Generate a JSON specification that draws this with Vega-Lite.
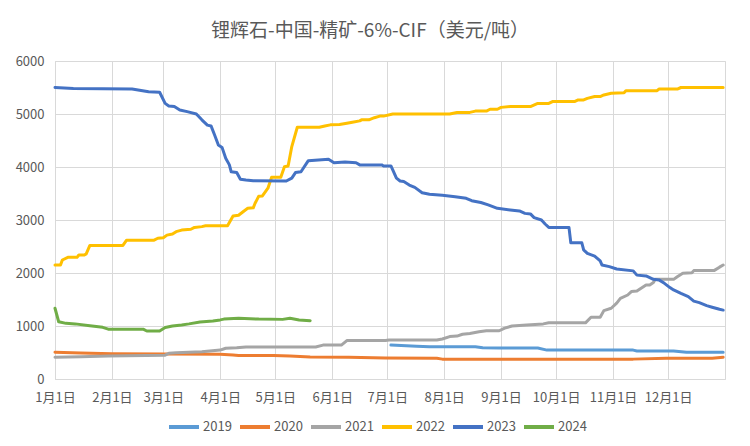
{
  "$schema": "https://vega.github.io/schema/vega-lite/v6.json",
  "width": 670,
  "height": 318,
  "autosize": "none",
  "padding": {"left": 55, "top": 61, "right": 25, "bottom": 67},
  "background": "white",
  "title": {
    "text": "锂辉石-中国-精矿-6%-CIF（美元/吨）",
    "fontSize": 19,
    "fontWeight": "normal",
    "color": "#595959",
    "font": "Noto Sans CJK SC",
    "anchor": "middle",
    "frame": "bounds",
    "offset": 14
  },
  "data": {
    "format": {"parse": {"md": "date:'%m-%d'"}},
    "values": [
      {"s": "2019", "md": "07-03", "v": 640},
      {"s": "2019", "md": "07-17", "v": 620},
      {"s": "2019", "md": "07-24", "v": 610},
      {"s": "2019", "md": "08-18", "v": 610},
      {"s": "2019", "md": "08-22", "v": 590},
      {"s": "2019", "md": "08-31", "v": 585},
      {"s": "2019", "md": "09-21", "v": 585},
      {"s": "2019", "md": "09-26", "v": 545},
      {"s": "2019", "md": "11-12", "v": 545},
      {"s": "2019", "md": "11-14", "v": 530},
      {"s": "2019", "md": "12-04", "v": 530},
      {"s": "2019", "md": "12-11", "v": 505},
      {"s": "2019", "md": "12-31", "v": 505},

      {"s": "2020", "md": "01-01", "v": 505},
      {"s": "2020", "md": "01-15", "v": 490},
      {"s": "2020", "md": "02-01", "v": 475},
      {"s": "2020", "md": "04-01", "v": 465},
      {"s": "2020", "md": "04-08", "v": 455},
      {"s": "2020", "md": "04-11", "v": 445},
      {"s": "2020", "md": "04-30", "v": 445},
      {"s": "2020", "md": "05-09", "v": 435},
      {"s": "2020", "md": "05-20", "v": 415},
      {"s": "2020", "md": "06-10", "v": 410},
      {"s": "2020", "md": "06-30", "v": 395},
      {"s": "2020", "md": "07-28", "v": 390},
      {"s": "2020", "md": "07-31", "v": 375},
      {"s": "2020", "md": "09-06", "v": 372},
      {"s": "2020", "md": "11-12", "v": 375},
      {"s": "2020", "md": "11-30", "v": 390},
      {"s": "2020", "md": "12-25", "v": 392},
      {"s": "2020", "md": "12-31", "v": 410},

      {"s": "2021", "md": "01-01", "v": 410},
      {"s": "2021", "md": "01-15", "v": 420},
      {"s": "2021", "md": "01-30", "v": 435},
      {"s": "2021", "md": "02-09", "v": 440},
      {"s": "2021", "md": "03-02", "v": 450},
      {"s": "2021", "md": "03-04", "v": 485},
      {"s": "2021", "md": "03-08", "v": 495},
      {"s": "2021", "md": "03-22", "v": 515},
      {"s": "2021", "md": "04-01", "v": 545},
      {"s": "2021", "md": "04-04", "v": 580},
      {"s": "2021", "md": "04-10", "v": 590},
      {"s": "2021", "md": "04-15", "v": 605},
      {"s": "2021", "md": "05-23", "v": 605},
      {"s": "2021", "md": "05-27", "v": 640},
      {"s": "2021", "md": "06-06", "v": 640},
      {"s": "2021", "md": "06-09", "v": 725},
      {"s": "2021", "md": "06-30", "v": 725},
      {"s": "2021", "md": "07-02", "v": 735},
      {"s": "2021", "md": "07-28", "v": 735},
      {"s": "2021", "md": "07-31", "v": 755},
      {"s": "2021", "md": "08-04", "v": 800},
      {"s": "2021", "md": "08-08", "v": 810},
      {"s": "2021", "md": "08-11", "v": 845},
      {"s": "2021", "md": "08-15", "v": 860},
      {"s": "2021", "md": "08-20", "v": 890},
      {"s": "2021", "md": "08-24", "v": 910},
      {"s": "2021", "md": "08-31", "v": 910},
      {"s": "2021", "md": "09-03", "v": 960},
      {"s": "2021", "md": "09-07", "v": 1000},
      {"s": "2021", "md": "09-15", "v": 1020},
      {"s": "2021", "md": "09-24", "v": 1040},
      {"s": "2021", "md": "09-27", "v": 1060},
      {"s": "2021", "md": "10-17", "v": 1060},
      {"s": "2021", "md": "10-20", "v": 1165},
      {"s": "2021", "md": "10-25", "v": 1165},
      {"s": "2021", "md": "10-27", "v": 1290},
      {"s": "2021", "md": "10-31", "v": 1335},
      {"s": "2021", "md": "11-03", "v": 1430},
      {"s": "2021", "md": "11-05", "v": 1520},
      {"s": "2021", "md": "11-09", "v": 1585},
      {"s": "2021", "md": "11-11", "v": 1650},
      {"s": "2021", "md": "11-14", "v": 1660},
      {"s": "2021", "md": "11-19", "v": 1775},
      {"s": "2021", "md": "11-21", "v": 1775},
      {"s": "2021", "md": "11-23", "v": 1820},
      {"s": "2021", "md": "11-24", "v": 1880},
      {"s": "2021", "md": "12-04", "v": 1880},
      {"s": "2021", "md": "12-06", "v": 1930},
      {"s": "2021", "md": "12-09", "v": 1995},
      {"s": "2021", "md": "12-14", "v": 2005},
      {"s": "2021", "md": "12-15", "v": 2045},
      {"s": "2021", "md": "12-26", "v": 2045},
      {"s": "2021", "md": "12-29", "v": 2110},
      {"s": "2021", "md": "12-31", "v": 2150},

      {"s": "2022", "md": "01-01", "v": 2150},
      {"s": "2022", "md": "01-04", "v": 2150},
      {"s": "2022", "md": "01-05", "v": 2245},
      {"s": "2022", "md": "01-08", "v": 2295},
      {"s": "2022", "md": "01-13", "v": 2295},
      {"s": "2022", "md": "01-14", "v": 2340},
      {"s": "2022", "md": "01-17", "v": 2340},
      {"s": "2022", "md": "01-18", "v": 2360},
      {"s": "2022", "md": "01-20", "v": 2520},
      {"s": "2022", "md": "02-07", "v": 2520},
      {"s": "2022", "md": "02-09", "v": 2620},
      {"s": "2022", "md": "02-24", "v": 2620},
      {"s": "2022", "md": "02-26", "v": 2655},
      {"s": "2022", "md": "03-01", "v": 2665},
      {"s": "2022", "md": "03-03", "v": 2715},
      {"s": "2022", "md": "03-06", "v": 2735},
      {"s": "2022", "md": "03-08", "v": 2780},
      {"s": "2022", "md": "03-11", "v": 2810},
      {"s": "2022", "md": "03-16", "v": 2825},
      {"s": "2022", "md": "03-18", "v": 2860},
      {"s": "2022", "md": "03-22", "v": 2875},
      {"s": "2022", "md": "03-24", "v": 2890},
      {"s": "2022", "md": "04-05", "v": 2890},
      {"s": "2022", "md": "04-08", "v": 3075},
      {"s": "2022", "md": "04-11", "v": 3090},
      {"s": "2022", "md": "04-14", "v": 3170},
      {"s": "2022", "md": "04-16", "v": 3220},
      {"s": "2022", "md": "04-19", "v": 3230},
      {"s": "2022", "md": "04-20", "v": 3315},
      {"s": "2022", "md": "04-22", "v": 3450},
      {"s": "2022", "md": "04-24", "v": 3455},
      {"s": "2022", "md": "04-27", "v": 3600},
      {"s": "2022", "md": "04-29", "v": 3805},
      {"s": "2022", "md": "05-04", "v": 3805},
      {"s": "2022", "md": "05-06", "v": 4005},
      {"s": "2022", "md": "05-08", "v": 4020},
      {"s": "2022", "md": "05-10", "v": 4385},
      {"s": "2022", "md": "05-13", "v": 4750},
      {"s": "2022", "md": "05-25", "v": 4750},
      {"s": "2022", "md": "05-28", "v": 4775},
      {"s": "2022", "md": "05-31", "v": 4795},
      {"s": "2022", "md": "06-05", "v": 4800},
      {"s": "2022", "md": "06-09", "v": 4825},
      {"s": "2022", "md": "06-12", "v": 4845},
      {"s": "2022", "md": "06-16", "v": 4870},
      {"s": "2022", "md": "06-17", "v": 4890},
      {"s": "2022", "md": "06-21", "v": 4890},
      {"s": "2022", "md": "06-24", "v": 4930},
      {"s": "2022", "md": "06-27", "v": 4960},
      {"s": "2022", "md": "06-29", "v": 4960},
      {"s": "2022", "md": "07-04", "v": 5000},
      {"s": "2022", "md": "08-04", "v": 5000},
      {"s": "2022", "md": "08-08", "v": 5030},
      {"s": "2022", "md": "08-15", "v": 5030},
      {"s": "2022", "md": "08-18", "v": 5055},
      {"s": "2022", "md": "08-24", "v": 5055},
      {"s": "2022", "md": "08-26", "v": 5090},
      {"s": "2022", "md": "08-30", "v": 5090},
      {"s": "2022", "md": "09-01", "v": 5125},
      {"s": "2022", "md": "09-06", "v": 5140},
      {"s": "2022", "md": "09-17", "v": 5140},
      {"s": "2022", "md": "09-21", "v": 5200},
      {"s": "2022", "md": "09-27", "v": 5200},
      {"s": "2022", "md": "09-29", "v": 5235},
      {"s": "2022", "md": "10-11", "v": 5235},
      {"s": "2022", "md": "10-13", "v": 5265},
      {"s": "2022", "md": "10-16", "v": 5265},
      {"s": "2022", "md": "10-18", "v": 5295},
      {"s": "2022", "md": "10-22", "v": 5330},
      {"s": "2022", "md": "10-25", "v": 5330},
      {"s": "2022", "md": "10-27", "v": 5360},
      {"s": "2022", "md": "10-31", "v": 5390},
      {"s": "2022", "md": "11-07", "v": 5400},
      {"s": "2022", "md": "11-08", "v": 5440},
      {"s": "2022", "md": "11-25", "v": 5440},
      {"s": "2022", "md": "11-26", "v": 5470},
      {"s": "2022", "md": "12-06", "v": 5470},
      {"s": "2022", "md": "12-08", "v": 5500},
      {"s": "2022", "md": "12-31", "v": 5500},

      {"s": "2023", "md": "01-01", "v": 5500},
      {"s": "2023", "md": "01-11", "v": 5480},
      {"s": "2023", "md": "02-12", "v": 5470},
      {"s": "2023", "md": "02-21", "v": 5420},
      {"s": "2023", "md": "02-27", "v": 5410},
      {"s": "2023", "md": "03-02", "v": 5200},
      {"s": "2023", "md": "03-04", "v": 5150},
      {"s": "2023", "md": "03-07", "v": 5140},
      {"s": "2023", "md": "03-10", "v": 5075},
      {"s": "2023", "md": "03-14", "v": 5045},
      {"s": "2023", "md": "03-19", "v": 5000},
      {"s": "2023", "md": "03-22", "v": 4890},
      {"s": "2023", "md": "03-25", "v": 4790},
      {"s": "2023", "md": "03-27", "v": 4775},
      {"s": "2023", "md": "03-29", "v": 4600},
      {"s": "2023", "md": "03-31", "v": 4415},
      {"s": "2023", "md": "04-02", "v": 4370},
      {"s": "2023", "md": "04-04", "v": 4165},
      {"s": "2023", "md": "04-06", "v": 4040},
      {"s": "2023", "md": "04-07", "v": 3910},
      {"s": "2023", "md": "04-10", "v": 3895},
      {"s": "2023", "md": "04-12", "v": 3770},
      {"s": "2023", "md": "04-15", "v": 3755},
      {"s": "2023", "md": "04-19", "v": 3740},
      {"s": "2023", "md": "05-07", "v": 3735},
      {"s": "2023", "md": "05-10", "v": 3790},
      {"s": "2023", "md": "05-12", "v": 3895},
      {"s": "2023", "md": "05-15", "v": 3910},
      {"s": "2023", "md": "05-19", "v": 4120},
      {"s": "2023", "md": "05-30", "v": 4145},
      {"s": "2023", "md": "06-02", "v": 4080},
      {"s": "2023", "md": "06-08", "v": 4095},
      {"s": "2023", "md": "06-14", "v": 4080},
      {"s": "2023", "md": "06-16", "v": 4040},
      {"s": "2023", "md": "06-28", "v": 4040},
      {"s": "2023", "md": "06-29", "v": 4020},
      {"s": "2023", "md": "07-03", "v": 4020},
      {"s": "2023", "md": "07-04", "v": 3945},
      {"s": "2023", "md": "07-06", "v": 3790},
      {"s": "2023", "md": "07-08", "v": 3735},
      {"s": "2023", "md": "07-10", "v": 3725},
      {"s": "2023", "md": "07-13", "v": 3660},
      {"s": "2023", "md": "07-16", "v": 3615},
      {"s": "2023", "md": "07-20", "v": 3515},
      {"s": "2023", "md": "07-24", "v": 3485},
      {"s": "2023", "md": "07-31", "v": 3465},
      {"s": "2023", "md": "08-07", "v": 3440},
      {"s": "2023", "md": "08-13", "v": 3410},
      {"s": "2023", "md": "08-16", "v": 3365},
      {"s": "2023", "md": "08-21", "v": 3330},
      {"s": "2023", "md": "08-25", "v": 3285},
      {"s": "2023", "md": "08-30", "v": 3220},
      {"s": "2023", "md": "09-06", "v": 3190},
      {"s": "2023", "md": "09-11", "v": 3170},
      {"s": "2023", "md": "09-14", "v": 3125},
      {"s": "2023", "md": "09-17", "v": 3115},
      {"s": "2023", "md": "09-19", "v": 3045},
      {"s": "2023", "md": "09-23", "v": 3000},
      {"s": "2023", "md": "09-25", "v": 2925},
      {"s": "2023", "md": "09-27", "v": 2860},
      {"s": "2023", "md": "10-08", "v": 2860},
      {"s": "2023", "md": "10-09", "v": 2570},
      {"s": "2023", "md": "10-15", "v": 2570},
      {"s": "2023", "md": "10-16", "v": 2435},
      {"s": "2023", "md": "10-18", "v": 2370},
      {"s": "2023", "md": "10-22", "v": 2320},
      {"s": "2023", "md": "10-25", "v": 2230},
      {"s": "2023", "md": "10-26", "v": 2150},
      {"s": "2023", "md": "10-30", "v": 2120},
      {"s": "2023", "md": "11-03", "v": 2075},
      {"s": "2023", "md": "11-12", "v": 2040},
      {"s": "2023", "md": "11-14", "v": 1960},
      {"s": "2023", "md": "11-19", "v": 1945},
      {"s": "2023", "md": "11-23", "v": 1880},
      {"s": "2023", "md": "11-26", "v": 1870},
      {"s": "2023", "md": "11-29", "v": 1805},
      {"s": "2023", "md": "12-02", "v": 1725},
      {"s": "2023", "md": "12-04", "v": 1680},
      {"s": "2023", "md": "12-08", "v": 1615},
      {"s": "2023", "md": "12-12", "v": 1555},
      {"s": "2023", "md": "12-15", "v": 1470},
      {"s": "2023", "md": "12-18", "v": 1440},
      {"s": "2023", "md": "12-22", "v": 1385},
      {"s": "2023", "md": "12-25", "v": 1355},
      {"s": "2023", "md": "12-29", "v": 1315},
      {"s": "2023", "md": "12-31", "v": 1300},

      {"s": "2024", "md": "01-01", "v": 1335},
      {"s": "2024", "md": "01-03", "v": 1080},
      {"s": "2024", "md": "01-07", "v": 1050},
      {"s": "2024", "md": "01-12", "v": 1040},
      {"s": "2024", "md": "01-20", "v": 1005},
      {"s": "2024", "md": "01-27", "v": 975},
      {"s": "2024", "md": "01-30", "v": 940},
      {"s": "2024", "md": "02-18", "v": 940},
      {"s": "2024", "md": "02-20", "v": 905},
      {"s": "2024", "md": "02-27", "v": 905},
      {"s": "2024", "md": "03-02", "v": 970},
      {"s": "2024", "md": "03-06", "v": 1000},
      {"s": "2024", "md": "03-11", "v": 1020},
      {"s": "2024", "md": "03-15", "v": 1040},
      {"s": "2024", "md": "03-21", "v": 1075},
      {"s": "2024", "md": "03-28", "v": 1095},
      {"s": "2024", "md": "04-01", "v": 1115},
      {"s": "2024", "md": "04-03", "v": 1130},
      {"s": "2024", "md": "04-11", "v": 1145},
      {"s": "2024", "md": "04-22", "v": 1130},
      {"s": "2024", "md": "05-05", "v": 1125},
      {"s": "2024", "md": "05-09", "v": 1145},
      {"s": "2024", "md": "05-14", "v": 1115},
      {"s": "2024", "md": "05-20", "v": 1100}
    ]
  },
  "mark": {"type": "line", "strokeWidth": 3, "strokeCap": "round", "strokeJoin": "round"},
  "encoding": {
    "x": {
      "field": "md",
      "type": "temporal",
      "scale": {"domain": [{"year": 1900, "month": 1, "date": 1}, {"year": 1901, "month": 1, "date": 1}]},
      "axis": {
        "title": null,
        "values": [
          {"year": 1900, "month": 1, "date": 1},
          {"year": 1900, "month": 2, "date": 1},
          {"year": 1900, "month": 3, "date": 1},
          {"year": 1900, "month": 4, "date": 1},
          {"year": 1900, "month": 5, "date": 1},
          {"year": 1900, "month": 6, "date": 1},
          {"year": 1900, "month": 7, "date": 1},
          {"year": 1900, "month": 8, "date": 1},
          {"year": 1900, "month": 9, "date": 1},
          {"year": 1900, "month": 10, "date": 1},
          {"year": 1900, "month": 11, "date": 1},
          {"year": 1900, "month": 12, "date": 1}
        ],
        "format": "%-m月%-d日",
        "ticks": false,
        "domain": false,
        "grid": true,
        "gridColor": "#d9d9d9",
        "labelFont": "Noto Sans CJK SC",
        "labelFontSize": 13,
        "labelColor": "#595959",
        "labelPadding": 12,
        "labelFlush": false,
        "labelOverlap": false,
        "labelBound": false
      }
    },
    "y": {
      "field": "v",
      "type": "quantitative",
      "scale": {"domain": [0, 6000], "nice": false},
      "axis": {
        "title": null,
        "values": [0, 1000, 2000, 3000, 4000, 5000, 6000],
        "format": "d",
        "ticks": false,
        "domain": false,
        "grid": true,
        "gridColor": "#d9d9d9",
        "labelFont": "Noto Sans CJK SC",
        "labelFontSize": 13,
        "labelColor": "#595959",
        "labelPadding": 11,
        "labelFlush": false,
        "labelOverlap": false
      }
    },
    "color": {
      "field": "s",
      "type": "nominal",
      "scale": {
        "domain": ["2019", "2020", "2021", "2022", "2023", "2024"],
        "range": ["#5B9BD5", "#ED7D31", "#A5A5A5", "#FFC000", "#4472C4", "#70AD47"]
      },
      "legend": {
        "title": null,
        "orient": "none",
        "legendX": 112,
        "legendY": 349,
        "direction": "horizontal",
        "symbolType": "stroke",
        "symbolSize": 900,
        "symbolStrokeWidth": 4,
        "labelFont": "Noto Sans CJK SC",
        "labelFontSize": 13,
        "labelColor": "#595959",
        "labelOffset": 2,
        "columnPadding": 0,
        "padding": 0
      }
    }
  },
  "config": {
    "view": {"stroke": "#d9d9d9"},
    "font": "Noto Sans CJK SC"
  }
}
